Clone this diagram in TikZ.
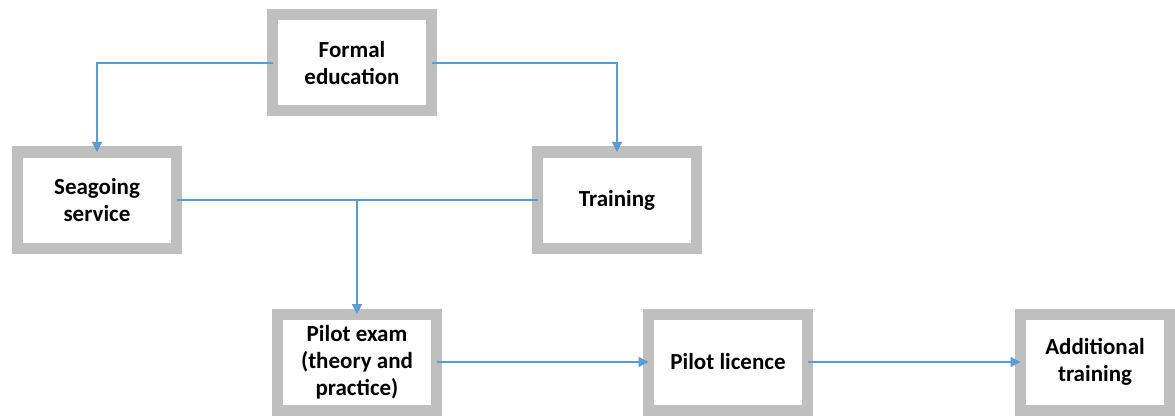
\documentclass[tikz,border=0pt]{standalone}
\usepackage{fontspec}
\setmainfont{Carlito}
\usepackage{tikz}
\usetikzlibrary{arrows.meta,positioning}

\definecolor{boxgray}{RGB}{191,191,191}
\definecolor{linkblue}{RGB}{91,155,213}

\begin{document}
\begin{tikzpicture}[x=1pt,y=-1pt,on grid,
  box/.style={draw=boxgray,line width=11pt,fill=white,outer sep=0pt,
    minimum width=159pt,minimum height=96pt,align=center,
    font=\fontsize{23}{27}\selectfont\bfseries},
  link/.style={draw=linkblue,line width=1.2pt,-{Triangle[length=10pt,width=10pt]}},
  line/.style={draw=linkblue,line width=1.2pt}]
  \useasboundingbox (0,0) rectangle (1175,417);
  \node[box] (formal) at (352,63) {Formal\\education};
  \node[box] (sea) [below left=137pt and 255pt of formal] {Seagoing\\service};
  \node[box] (train) [below right=137pt and 265pt of formal] {Training};
  \node[box] (exam) [below right=162pt and 260pt of sea] {Pilot exam\\(theory and\\practice)};
  \node[box] (licence) [right=371pt of exam] {Pilot licence};
  \node[box,minimum width=149pt] (extra) [right=367pt of licence] {Additional\\training};
  \coordinate (join) at (sea.east -| exam.north);
  \draw[link] (formal.west) -| (sea.north);
  \draw[link] (formal.east) -| (train.north);
  \draw[line] (sea.east) -- (train.west);
  \draw[link] (join) -- (exam.north);
  \draw[link] (exam) -- (licence);
  \draw[link] (licence) -- (extra);
\end{tikzpicture}
\end{document}
